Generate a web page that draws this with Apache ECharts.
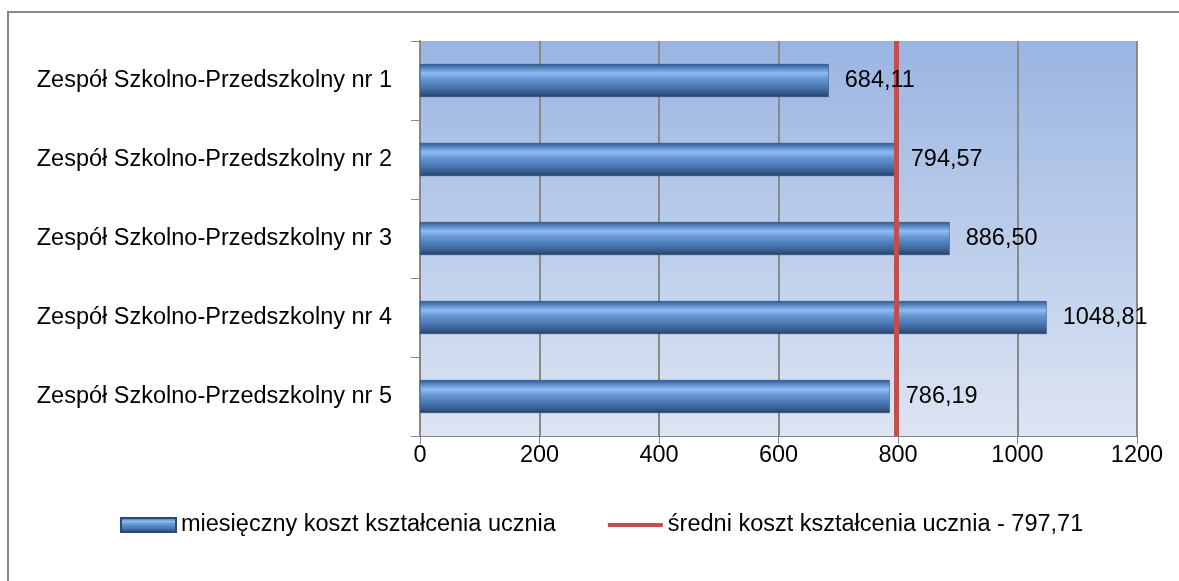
<!DOCTYPE html>
<html><head><meta charset="utf-8">
<script src="https://cdn.jsdelivr.net/npm/echarts@6/dist/echarts.min.js"></script>
<style>html,body{margin:0;padding:0;background:#fff}#c{width:1179px;height:581px}</style>
</head><body><div id="c"></div>
<script>
const categories = ['Zespół Szkolno-Przedszkolny nr 1','Zespół Szkolno-Przedszkolny nr 2','Zespół Szkolno-Przedszkolny nr 3','Zespół Szkolno-Przedszkolny nr 4','Zespół Szkolno-Przedszkolny nr 5'];
const monthlyCost = [684.11, 794.57, 886.50, 1048.81, 786.19];
const averageCost = 797.71;
const barSeriesName = 'miesięczny koszt kształcenia ucznia';
const lineSeriesName = 'średni koszt kształcenia ucznia - 797,71';
const xTicks = {min: 0, max: 1200, interval: 200};

const FONT = '"Liberation Sans", Arial, sans-serif';
const FS = 23.5;
const fmt = v => v.toFixed(2).replace('.', ',');
const barGrad = new echarts.graphic.LinearGradient(0,0,0,1,[
  {offset:0, color:'#2f5584'},
  {offset:0.08, color:'#4878b4'},
  {offset:0.28, color:'#8dbdf3'},
  {offset:0.45, color:'#6897d4'},
  {offset:0.72, color:'#4674ae'},
  {offset:0.88, color:'#355a8a'},
  {offset:1, color:'#223f63'}
]);
const chart = echarts.init(document.getElementById('c'));
chart.setOption({
  animation:false,
  textStyle:{fontFamily:FONT},
  graphic:[{type:'rect', shape:{x:8,y:12,width:1200,height:620}, style:{fill:'none', stroke:'#888888', lineWidth:2}, z:-10}],
  grid:{left:420, right:42, top:41, bottom:145, show:true, borderWidth:0,
    backgroundColor:new echarts.graphic.LinearGradient(0,0,0,1,[{offset:0,color:'#9ab5e2'},{offset:1,color:'#dde5f3'}])},
  legend:{left:115, top:508, itemWidth:55, itemHeight:14, itemGap:52,
    textStyle:{fontFamily:FONT, fontSize:FS, color:'#000'},
    data:[{name:barSeriesName, icon:'rect', itemStyle:{color:barGrad}},
          {name:lineSeriesName, icon:'path://M0,0h55v4h-55z', itemStyle:{color:'#c0504d'}}]},
  xAxis:{type:'value', min:xTicks.min, max:xTicks.max, interval:xTicks.interval,
    axisLine:{show:true, lineStyle:{color:'#868686', width:1}},
    axisTick:{show:true, length:8, lineStyle:{color:'#868686'}},
    axisLabel:{color:'#000', fontSize:FS, fontFamily:FONT, margin:8, formatter:v=>String(v)},
    splitLine:{show:true, lineStyle:{color:'#8a8a8a', width:2}}},
  yAxis:{type:'category', data:categories, inverse:true,
    axisLine:{show:true, lineStyle:{color:'#868686', width:2}},
    axisTick:{show:true, length:9, lineStyle:{color:'#868686'}},
    axisLabel:{color:'#000', fontSize:FS, fontFamily:FONT, margin:28}},
  series:[
    {name:barSeriesName, type:'bar', data:monthlyCost, barWidth:33, z:2,
      itemStyle:{color:barGrad, borderColor:'#2a4a75', borderWidth:0.5}},
    {name:lineSeriesName, type:'line', data:[], z:5, itemStyle:{color:'#c0504d'},
      markLine:{symbol:'none', silent:true, label:{show:false},
        lineStyle:{color:'#c0504d', width:5, type:'solid'},
        data:[{xAxis:averageCost}]}},
    {name:'labels', type:'bar', data:monthlyCost, barWidth:33, barGap:'-100%', z:10, silent:true,
      itemStyle:{color:'rgba(0,0,0,0)'},
      label:{show:true, position:'right', distance:16, color:'#000', fontSize:FS, fontFamily:FONT, formatter:p=>fmt(p.value)}}
  ]
});
</script></body></html>
